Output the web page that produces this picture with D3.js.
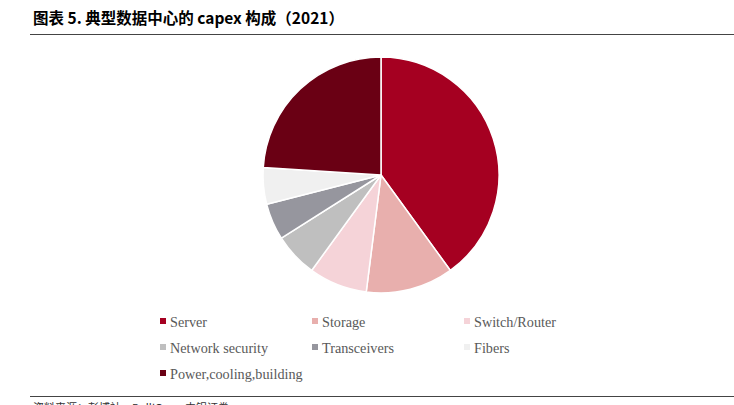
<!DOCTYPE html>
<html><head><meta charset="utf-8">
<script src="https://cdn.jsdelivr.net/npm/d3@7"></script>
<style>body{margin:0;background:#fff;}svg{display:block;}</style>
</head><body>
<script>
const categories = ["Server","Storage","Switch/Router","Network security","Transceivers","Fibers","Power,cooling,building"];
const values = [40, 12, 8, 6, 5, 5, 24];
const colors = ["#A50021","#E8AFAD","#F5D3D8","#BFBFBF","#96969E","#F0F0F0","#6A0014"];

const W = 734, H = 405;
const svg = d3.select("body").append("svg").attr("width", W).attr("height", H);

svg.append("text").attr("x", 33).attr("y", 24)
  .attr("font-family", "'Noto Sans CJK SC', sans-serif").attr("font-weight", "bold")
  .attr("font-size", 15.5).attr("fill", "#000")
  .text("图表 5. 典型数据中心的 capex 构成（2021）");
svg.append("line").attr("x1", 30).attr("x2", 734).attr("y1", 34.5).attr("y2", 34.5)
  .attr("stroke", "#444").attr("stroke-width", 1);
svg.append("line").attr("x1", 30).attr("x2", 734).attr("y1", 396.5).attr("y2", 396.5)
  .attr("stroke", "#444").attr("stroke-width", 1);
svg.append("text").attr("x", 33).attr("y", 412)
  .attr("font-family", "'Noto Sans CJK SC', sans-serif").attr("font-size", 11).attr("fill", "#333")
  .text("资料来源：彭博社，Dell'Oro，中银证券");

const data = categories.map((c, i) => ({cat: c, value: values[i], color: colors[i]}));
const pie = d3.pie().value(d => d.value).sort(null);
const arc = d3.arc().innerRadius(0).outerRadius(118);
const g = svg.append("g").attr("transform", "translate(381,175)");
g.selectAll("path").data(pie(data)).join("path")
  .attr("d", arc).attr("fill", d => d.data.color)
  .attr("stroke", "#fff").attr("stroke-width", 1.5).attr("stroke-linejoin", "round");

const colX = [160, 312, 464], rowY = [322, 348, 374];
const leg = svg.append("g");
data.forEach((d, i) => {
  const x = colX[i % 3], y = rowY[Math.floor(i / 3)];
  leg.append("rect").attr("x", x).attr("y", y - 4).attr("width", 6).attr("height", 6).attr("fill", d.color);
  leg.append("text").attr("x", x + 10).attr("y", y + 5)
    .attr("font-family", "'Liberation Serif', serif").attr("font-size", 14.2).attr("fill", "#595959")
    .text(d.cat);
});
</script>
</body></html>
